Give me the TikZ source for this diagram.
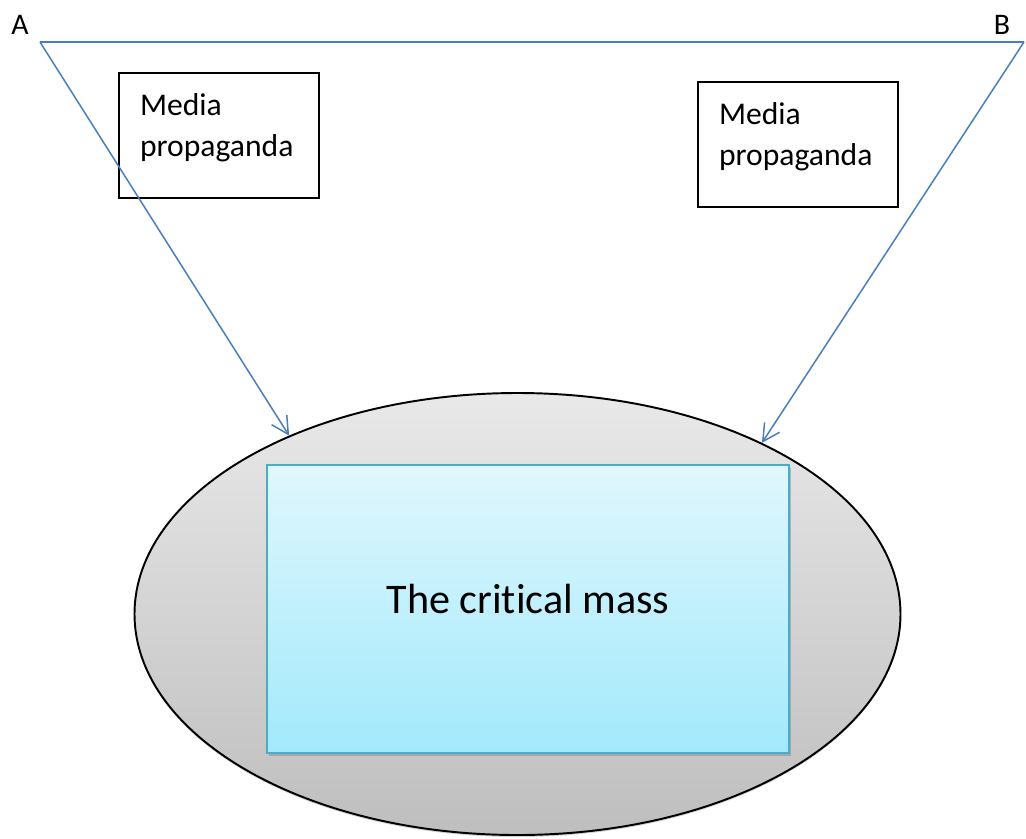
\documentclass[tikz,border=0pt]{standalone}
\usepackage{fontspec}
\setmainfont{Carlito}[Ligatures=NoCommon]
\usetikzlibrary{arrows.meta,shadows,positioning,shapes.geometric}

\definecolor{lineblue}{HTML}{4A7EBB}
\definecolor{rimblue}{HTML}{4BACC6}
\definecolor{masstop}{HTML}{E0F7FD}
\definecolor{massbottom}{HTML}{A2E9FC}
\definecolor{crowdtop}{HTML}{E9E9E9}
\definecolor{crowdbottom}{HTML}{BEBEBE}

\begin{document}
\begin{tikzpicture}[
    mediabox/.style={rectangle, draw, line width=0.8pt, minimum width=4cm, minimum height=2.5cm,
        text width=3.16cm, inner xsep=0.42cm, align=left, text depth=1.22cm,
        font=\fontsize{18}{22.8}\selectfont},
    corner/.style={font=\fontsize{17}{20}\selectfont, inner sep=0pt},
    crowd/.style={ellipse, draw, line width=1.1pt, minimum width=15.32cm, minimum height=8.84cm,
        inner sep=0pt, top color=crowdtop, bottom color=crowdbottom,
        drop shadow={shadow xshift=0pt, shadow yshift=-0.04cm, opacity=0.35}},
    massbox/.style={rectangle, draw=rimblue, line width=1.2pt, minimum width=10.44cm, minimum height=5.76cm,
        top color=masstop, bottom color=massbottom, text depth=0.4cm, font=\fontsize{24}{28}\selectfont,
        drop shadow={shadow xshift=0.03cm, shadow yshift=-0.05cm, opacity=0.45}},
    line/.style={draw=lineblue, line width=0.85pt},
    arrow/.style={line, -{Straight Barb[length=3.4mm, width=3.6mm]}}
]
\useasboundingbox (0,0) rectangle (20.52,-16.76);

\coordinate (a) at (0.8,-0.84);
\coordinate (b) at (20.48,-0.84);
\node[corner] (alabel) at (0.4,-0.5) {A};
\node[corner] (blabel) at (20.04,-0.5) {B};

\node[mediabox] (media1) at (4.38,-2.71) {Media\\propaganda};
\node[mediabox] (media2) at (15.96,-2.89) {Media\\propaganda};

\node[crowd] (crowd) at (10.35,-12.28) {};
\node[massbox] (mass) at (10.56,-12.18) {The critical mass};

\draw[line] (a) -- (b);
\draw[arrow] (a) -- (crowd.142.6);
\draw[arrow] (b) -- (crowd.35.5);

\end{tikzpicture}
\end{document}
